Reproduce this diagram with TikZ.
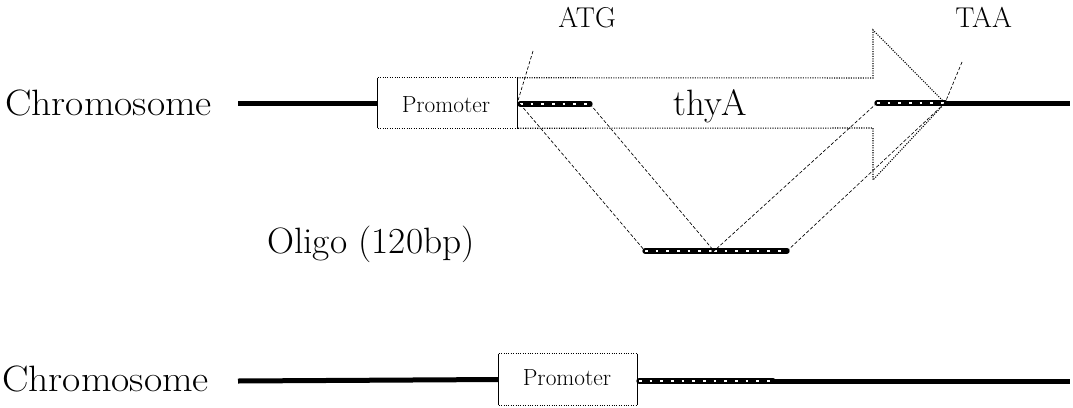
\documentclass[tikz,border=0pt]{standalone}
\usepackage{graphicx}
\begin{document}
\begin{tikzpicture}[x=0.75pt,y=-0.75pt,
  lbl/.style={inner sep=0pt, anchor=base west, font=\fontsize{27.5}{30}\selectfont},
  codon/.style={inner sep=0pt, anchor=base west, font=\fontsize{21.5}{24}\selectfont},
  promtxt/.style={inner sep=0pt, anchor=base, font=\fontsize{17.5}{20}\selectfont},
  box/.style={inner sep=0pt, draw=none},
  chrom/.style={line width=3.75pt, black},
  seg/.style={line width=4pt, black, line cap=round},
  stripe/.style={line width=1.8pt, white, dash pattern=on 2pt off 6pt},
  outline/.style={line width=0.8pt, densely dotted},
  guide/.style={line width=0.5pt, dash pattern=on 2.5pt off 1.5pt}]
\useasboundingbox (0,0) rectangle (1073,407);

% texts
\node[lbl] (chr1) at (5,115) {\scalebox{1.08}[1]{Chromosome}};
\node[lbl] (chr2) at (2,391) {\scalebox{1.08}[1]{Chromosome}};
\node[lbl] (oligo) at (267,253) {\scalebox{1.02}[1]{Oligo (120bp)}};
\node[lbl] (thya) at (673,115) {thyA};
\node[codon] (atg) at (558,27) {ATG};
\node[codon] (taa) at (955,27) {TAA};

% promoter boxes
\node[box, minimum width=104.25pt, minimum height=37.5pt] (prom1) at (447.5,103) {};
\node[box, minimum width=103.5pt, minimum height=38.25pt] (prom2) at (568,379.5) {};
\node[promtxt] (p1txt) at (446,112) {Promoter};
\node[promtxt] (p2txt) at (567,385) {Promoter};

% coordinates
\coordinate (c1s) at (238,103);
\coordinate (c1e) at (1070,103);
\coordinate (a1) at (520,104);
\coordinate (a2) at (590,104);
\coordinate (t1) at (877,103);
\coordinate (tip) at (945,103);
\coordinate (o1) at (645,251);
\coordinate (o2) at (714,251);
\coordinate (o3) at (787,251);
\coordinate (atgl) at (533,51);
\coordinate (taal) at (962,62);
\coordinate (c2s) at (238,381);
\coordinate (b1) at (639,381);
\coordinate (b2) at (773,381);
\coordinate (c2e) at (1070,381);

% top chromosome
\draw[chrom] (c1s) -- (prom1.west);
\draw[chrom] (tip) -- (c1e);

% promoter 1 box
\draw[line width=0.7pt] (prom1.north west) -- (prom1.south west);
\draw[line width=0.7pt] (prom1.north east) -- (prom1.south east);
\draw[outline] (prom1.north west) -- (prom1.north east);
\draw[outline] (prom1.south west) -- (prom1.south east);

% thyA arrow outline
\draw[outline] (prom1.north east) -- (873,78) -- (873,30) -- (tip) -- (873,180) -- (873,128) -- (prom1.south east);

% segments top
\draw[seg] (a1) -- (a2);
\draw[stripe] (a1) -- (a2);
\draw[seg] (t1) -- (tip);
\draw[stripe] (t1) -- (tip);

% oligo
\draw[seg] (o1) -- (o2);
\draw[stripe] (o1) -- (o2);
\draw[seg] (o2) -- (o3);
\draw[stripe] (o2) -- (o3);

% guides
\draw[guide] (a1) -- (o1);
\draw[guide] (a2) -- (o2);
\draw[guide] (t1) -- (o2);
\draw[guide] (tip) -- (o3);
\draw[guide] (atgl) -- (prom1.east);
\draw[guide] (taal) -- (tip);

% bottom chromosome
\draw[chrom] (c2s) -- (prom2.west);
\draw[line width=0.7pt] (prom2.north west) -- (prom2.south west);
\draw[line width=0.7pt] (prom2.north east) -- (prom2.south east);
\draw[outline] (prom2.north west) -- (prom2.north east);
\draw[outline] (prom2.south west) -- (prom2.south east);
\draw[seg] (b1) -- (b2);
\draw[stripe] (b1) -- (b2);
\draw[chrom] (b2) -- (c2e);
\end{tikzpicture}
\end{document}
